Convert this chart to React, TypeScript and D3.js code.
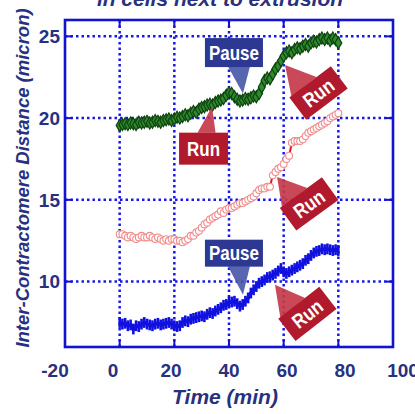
import * as d3 from 'd3';

// sampled once per minute, 0..80 min
const minutes = d3.range(0, 81);

const greenValues = [
  19.55, 19.6, 19.65, 19.6, 19.7, 19.65, 19.6, 19.75, 19.7, 19.75, 19.8,
  19.7, 19.75, 19.85, 19.8, 19.75, 19.85, 19.9, 19.95, 19.85, 19.95,
  20.05, 20.0, 20.1, 20.2, 20.15, 20.3, 20.4, 20.35, 20.55, 20.65,
  20.7, 20.8, 20.85, 20.8, 20.95, 21.05, 21.1, 21.2, 21.4, 21.55,
  21.5, 21.3, 21.15, 21.05, 21.1, 21.2, 21.15, 21.25, 21.35, 21.3,
  21.5, 21.9, 22.3, 22.45, 22.4, 22.7, 23.0, 23.2, 23.5, 23.8,
  24.0, 24.1, 24.0, 24.2, 24.3, 24.25, 24.4, 24.5, 24.4, 24.6,
  24.7, 24.65, 24.8, 24.9, 24.8, 24.9, 24.75, 24.9, 24.8, 24.6
];

const redValues = [
  12.9, 12.9, 12.8, 12.7, 12.8, 12.7, 12.6, 12.7, 12.8, 12.7, 12.7,
  12.8, 12.7, 12.6, 12.7, 12.6, 12.5, 12.6, 12.5, 12.6, 12.6,
  12.5, 12.5, 12.4, 12.5, 12.6, 12.8, 12.8, 13.0, 13.1, 13.3,
  13.5, 13.6, 13.8, 13.9, 14.0, 14.1, 14.3, 14.2, 14.4, 14.5,
  14.5, 14.6, 14.7, 14.8, 14.8, 14.9, 15.0, 15.1, 15.2, 15.4,
  15.6, 15.7, 15.7, 15.8, 15.8, 16.5, 16.7, 16.9, 17.0, 17.2,
  17.5, 17.7, 18.5, 18.6, 18.6, 18.6, 18.7, 18.9, 19.1, 19.2,
  19.3, 19.4, 19.5, 19.6, 19.7, 19.8, 20.0, 20.1, 20.2, 20.3
];

const blueValues = [
  7.5, 7.4, 7.45, 7.3, 7.35, 7.1, 7.3, 7.25, 7.4, 7.5, 7.4,
  7.35, 7.3, 7.4, 7.45, 7.35, 7.4, 7.45, 7.5, 7.4, 7.3,
  7.25, 7.3, 7.5, 7.6, 7.55, 7.7, 7.75, 7.8, 7.85, 7.9,
  7.85, 8.0, 8.1, 8.05, 8.2, 8.3, 8.4, 8.55, 8.6, 8.75,
  8.75, 8.8, 8.65, 8.5, 8.6, 8.8, 9.0, 9.3, 9.5, 9.7,
  9.9, 10.0, 10.1, 10.25, 10.3, 10.4, 10.5, 10.65, 10.8, 10.6,
  10.5, 10.6, 10.7, 10.8, 10.9, 11.0, 11.1, 11.3, 11.4, 11.6,
  11.75, 11.85, 11.9, 12.0, 11.95, 12.0, 11.95, 11.9, 11.95, 11.9
];
const blueError = 0.33;

const xTicks = [-20, 0, 20, 40, 60, 80, 100];
const yTicks = [10, 15, 20, 25];

// callouts: tip in data units (t, v), box offset/size in px
const callouts = [
  { text: 'Pause', tone: 'pause', t: 45.1, v: 21.5, dx: -9, dy: -41, w: 58, h: 29, angle: 0, base: [[-6, 14], [16, 14]] },
  { text: 'Run', tone: 'run', t: 33.8, v: 20.7, dx: -8.5, dy: 42, w: 49, h: 32, angle: 0, base: [[-6, -16], [12, -16]] },
  { text: 'Run', tone: 'run', t: 60.5, v: 23.25, dx: 33.5, dy: 28, w: 52, h: 28, angle: -37, base: [[-24, -13], [8, -14]] },
  { text: 'Run', tone: 'run', t: 57.6, v: 16.4, dx: 32, dy: 27, w: 52, h: 28, angle: -36, base: [[-24, -13], [8, -14]] },
  { text: 'Pause', tone: 'pause', t: 45.1, v: 9.2, dx: -9, dy: -41.5, w: 58, h: 27, angle: 0, base: [[-6, 13], [16, 13]] },
  { text: 'Run', tone: 'run', t: 56.8, v: 9.8, dx: 32.5, dy: 29, w: 52, h: 28, angle: -38, base: [[-24, -13], [8, -14]] }
];

const FONT = "'Liberation Sans', Arial, Helvetica, sans-serif";
const NAVY = '#283080';
const FRAME = '#1212d2';
const GRID = '#1818e8';

export default function App() {
  const width = 415;
  const height = 414;

  const x = d3.scaleLinear().domain([-20, 100]).range([65, 393]);
  // tick labels in the original are spread a bit wider than the ticks
  const xLabel = d3.scaleLinear().domain([-20, 100]).range([55, 403]);
  const y = d3.scaleLinear().domain([6, 26]).range([347, 20]);

  const [x0, x1] = x.range();
  const [y0, y1] = y.range();

  const line = d3.line<number>()
    .x((_, i) => x(minutes[i]))
    .y(d => y(d));

  const diamond = d3.symbol().type(d3.symbolDiamond).size(42)() || '';

  const rot = (p: number[], deg: number) => {
    const a = (deg * Math.PI) / 180;
    return [p[0] * Math.cos(a) - p[1] * Math.sin(a), p[0] * Math.sin(a) + p[1] * Math.cos(a)];
  };

  return (
    <svg width={width} height={height} style={{ position: 'absolute', left: 0, top: 0, background: '#fff' }}>
      {/* title, mostly cropped off the top */}
      <text x={220} y={6} textAnchor="middle" fontFamily={FONT} fontWeight="bold" fontStyle="italic" fontSize={21} fill={NAVY}>
        in cells next to extrusion
      </text>

      {/* grid */}
      {xTicks.filter(t => t > -20 && t < 100).map(t => (
        <line key={'gx' + t} x1={x(t)} x2={x(t)} y1={y0} y2={y1} stroke={GRID} strokeWidth={2.5} strokeDasharray="2.5 3" />
      ))}
      {yTicks.map(v => (
        <line key={'gy' + v} x1={x0} x2={x1} y1={y(v)} y2={y(v)} stroke={GRID} strokeWidth={2.5} strokeDasharray="2.5 3" />
      ))}

      {/* inner ticks */}
      {xTicks.filter(t => t > -20 && t < 100).map(t => (
        <g key={'tx' + t}>
          <line x1={x(t)} x2={x(t)} y1={y0} y2={y0 - 7} stroke={FRAME} strokeWidth={2} />
          <line x1={x(t)} x2={x(t)} y1={y1} y2={y1 + 7} stroke={FRAME} strokeWidth={2} />
        </g>
      ))}
      {yTicks.map(v => (
        <g key={'ty' + v}>
          <line x1={x0} x2={x0 + 7} y1={y(v)} y2={y(v)} stroke={FRAME} strokeWidth={2} />
          <line x1={x1} x2={x1 - 7} y1={y(v)} y2={y(v)} stroke={FRAME} strokeWidth={2} />
        </g>
      ))}

      {/* blue series with error bars */}
      <g>
        {blueValues.map((v, i) => (
          <line key={'eb' + i} x1={x(minutes[i])} x2={x(minutes[i])} y1={y(v - blueError)} y2={y(v + blueError)} stroke="#1010e0" strokeWidth={2.6} />
        ))}
        <path d={line(blueValues) || ''} fill="none" stroke="#1010e0" strokeWidth={3.8} />
      </g>

      {/* red series, open circles */}
      <g>
        <path d={line(redValues) || ''} fill="none" stroke="#e01818" strokeWidth={2} />
        {redValues.map((v, i) => (
          <circle key={'rc' + i} cx={x(minutes[i])} cy={y(v)} r={3.4} fill="#fff" stroke="#f08c8c" strokeWidth={1.1} />
        ))}
      </g>

      {/* green series, diamonds */}
      <g>
        <path d={line(greenValues) || ''} fill="none" stroke="#145214" strokeWidth={3} />
        {greenValues.map((v, i) => (
          <path key={'gd' + i} d={diamond} transform={`translate(${x(minutes[i])},${y(v)})`} fill="#2f8a2f" stroke="#0e420e" strokeWidth={1.2} />
        ))}
      </g>

      {/* callouts */}
      {callouts.map((c, i) => {
        const tx = x(c.t);
        const ty = y(c.v);
        const cx = tx + c.dx;
        const cy = ty + c.dy;
        const b1 = rot(c.base[0], c.angle);
        const b2 = rot(c.base[1], c.angle);
        const boxFill = c.tone === 'pause' ? '#2c3891' : '#b11a2c';
        const tailFill = c.tone === 'pause' ? '#4a58a8' : '#c43a4a';
        return (
          <g key={'co' + i}>
            <polygon
              points={`${tx},${ty} ${cx + b1[0]},${cy + b1[1]} ${cx + b2[0]},${cy + b2[1]}`}
              fill={tailFill}
              opacity={0.92}
            />
            <g transform={`translate(${cx},${cy}) rotate(${c.angle})`}>
              <rect x={-c.w / 2} y={-c.h / 2} width={c.w} height={c.h} fill={boxFill} />
              <text
                x={0}
                y={7}
                textAnchor="middle"
                fontFamily={FONT}
                fontWeight="bold"
                fontSize={20}
                fill="#fff"
                textLength={c.text === 'Pause' ? 50 : 33}
                lengthAdjust="spacingAndGlyphs"
              >
                {c.text}
              </text>
            </g>
          </g>
        );
      })}

      {/* frame */}
      <rect x={x0} y={y1} width={x1 - x0} height={y0 - y1} fill="none" stroke={FRAME} strokeWidth={2.6} />

      {/* tick labels */}
      {xTicks.map(t => (
        <text key={'lx' + t} x={xLabel(t)} y={377} textAnchor="middle" fontFamily={FONT} fontWeight="bold" fontSize={19} fill={NAVY}>
          {t}
        </text>
      ))}
      {yTicks.map(v => (
        <text key={'ly' + v} x={60} y={y(v)} dy="0.36em" textAnchor="end" fontFamily={FONT} fontWeight="bold" fontSize={19} fill={NAVY}>
          {v}
        </text>
      ))}

      {/* axis titles */}
      <text x={225} y={404} textAnchor="middle" fontFamily={FONT} fontWeight="bold" fontStyle="italic" fontSize={21} fill={NAVY}>
        Time (min)
      </text>
      <text
        transform="translate(29,178) rotate(-90)"
        textAnchor="middle"
        fontFamily={FONT}
        fontWeight="bold"
        fontStyle="italic"
        fontSize={18.5}
        fill={NAVY}
      >
        Inter-Contractomere Distance (micron)
      </text>
    </svg>
  );
}
